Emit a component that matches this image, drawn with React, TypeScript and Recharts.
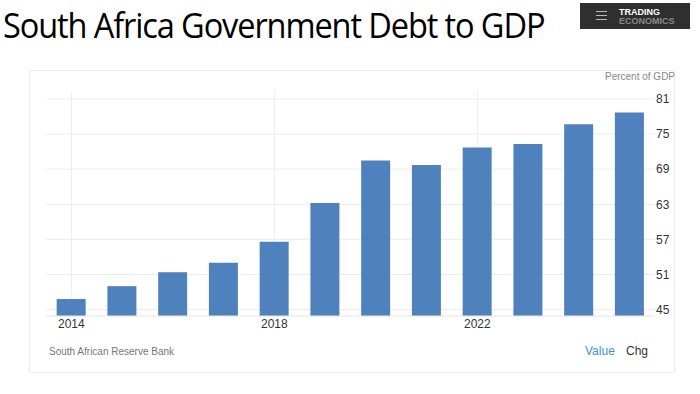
import { Bar, BarChart, CartesianGrid, XAxis, YAxis } from "recharts"

const years = ["2014", "2015", "2016", "2017", "2018", "2019", "2020", "2021", "2022", "2023", "2024", "2025"]
const debtToGdp = [46.8, 49.0, 51.4, 53.0, 56.6, 63.2, 70.5, 69.7, 72.7, 73.3, 76.7, 78.7]
const yTicks = [45, 51, 57, 63, 69, 75, 81]

const data = years.map((year, i) => ({ year, value: debtToGdp[i] }))

const font = "'Liberation Sans', Arial, sans-serif"

const App = () => {
    return (
        <div style={{ position: "absolute", left: 0, top: 0, width: 700, height: 394, background: "#fff", overflow: "hidden", fontFamily: font }}>
            <div style={{ position: "absolute", left: 3, top: 2, fontFamily: "'Open Sans', sans-serif", fontSize: 35, letterSpacing: -1.2, color: "#000", whiteSpace: "nowrap", lineHeight: "46px", transform: "scaleX(0.93)", transformOrigin: "left top" }}>
                South Africa Government Debt to GDP
            </div>

            <div style={{ position: "absolute", left: 580, top: 3, width: 110, height: 26, background: "#2f2f2f" }}>
                <div style={{ position: "absolute", left: 16, top: 8, width: 11, height: 1, background: "#bbb" }} />
                <div style={{ position: "absolute", left: 16, top: 12, width: 11, height: 1, background: "#bbb" }} />
                <div style={{ position: "absolute", left: 16, top: 16, width: 11, height: 1, background: "#bbb" }} />
                <div style={{ position: "absolute", left: 39, top: 4, fontSize: 9, fontWeight: "bold", color: "#fff", lineHeight: "10px" }}>TRADING</div>
                <div style={{ position: "absolute", left: 39, top: 13, fontSize: 9, fontWeight: "bold", color: "#8a8a8a", lineHeight: "10px" }}>ECONOMICS</div>
            </div>

            <div style={{ position: "absolute", left: 29, top: 70, width: 646, height: 303, border: "1px solid #ececec", boxSizing: "border-box" }} />

            <div style={{ position: "absolute", left: 605, top: 71, fontSize: 10, color: "#888" }}>Percent of GDP</div>
            <div style={{ position: "absolute", left: 49, top: 346, fontSize: 10, color: "#777" }}>South African Reserve Bank</div>
            <div style={{ position: "absolute", left: 585, top: 344, fontSize: 12, color: "#3d95cc" }}>Value</div>
            <div style={{ position: "absolute", left: 626, top: 344, fontSize: 12, color: "#333" }}>Chg</div>

            <div style={{ position: "absolute", left: 0, top: 0 }}>
                <BarChart width={700} height={394} data={data} margin={{ top: 92, right: 5, bottom: 48, left: 46 }} barCategoryGap="21%">
                    <CartesianGrid stroke="#ececec" syncWithTicks />
                    <XAxis
                        dataKey="year"
                        interval={3}
                        tickLine={false}
                        tickSize={0}
                        tickMargin={3}
                        height={30}
                        axisLine={{ stroke: "#e4e4e4" }}
                        tick={{ fill: "#333", fontSize: 12, fontFamily: font }}
                    />
                    <YAxis
                        orientation="right"
                        domain={[43.9, 82.2]}
                        ticks={yTicks}
                        allowDataOverflow
                        tickLine={false}
                        axisLine={false}
                        tickSize={0}
                        tickMargin={1}
                        width={40}
                        tick={{ fill: "#333", fontSize: 12, fontFamily: font, textAnchor: "start" }}
                    />
                    <Bar dataKey="value" fill="#4f81bd" isAnimationActive={false} />
                </BarChart>
            </div>
        </div>
    )
}

export default App
